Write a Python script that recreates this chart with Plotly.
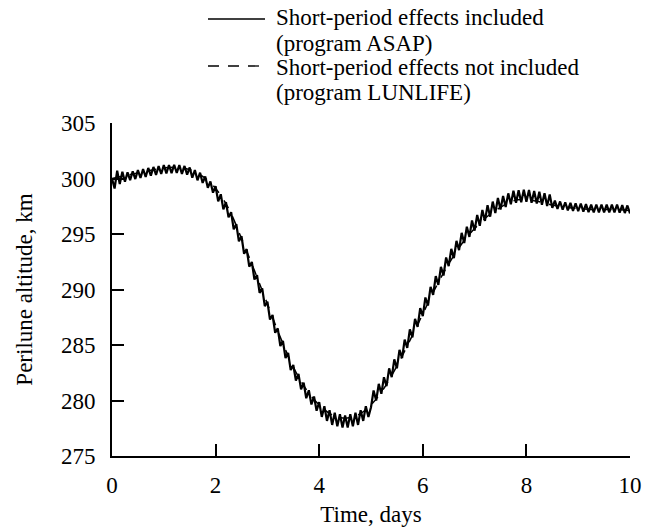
import plotly.graph_objects as go

# ---------------- data ----------------
# Program LUNLIFE (short-period effects not included), sampled every 0.25 day
lunlife_t = [0.0, 0.25, 0.5, 0.75, 1.0, 1.25, 1.5, 1.75, 2.0, 2.25,
             2.5, 2.75, 3.0, 3.25, 3.5, 3.75, 4.0, 4.25, 4.5, 4.75,
             5.0, 5.25, 5.5, 5.75, 6.0, 6.25, 6.5, 6.75, 7.0, 7.25,
             7.5, 7.75, 8.0, 8.25, 8.5, 8.75, 9.0, 9.25, 9.5, 9.75, 10.0]
lunlife_alt = [300.0, 300.25, 300.5, 300.75, 300.95, 301.0, 300.8, 300.2, 299.1, 297.3,
               294.6, 291.7, 288.7, 285.7, 283.0, 281.0, 279.6, 278.7, 278.4, 278.7,
               279.6, 281.1, 283.1, 285.4, 287.8, 290.2, 292.3, 294.1, 295.5, 296.6,
               297.4, 298.0, 298.1, 297.9, 297.6, 297.4, 297.3, 297.2, 297.2, 297.2, 297.1]

# Program ASAP (short-period effects included), sampled every 0.05 day from t = 0
asap_start = 0.0
asap_step = 0.05
asap_alt = [
    300.0, 299.1, 300.7, 299.5, 300.6, 299.7, 300.55, 299.85, 300.65, 299.95,
    300.75, 300.05, 300.85, 300.15, 300.95, 300.25, 301.04, 300.33, 301.12, 300.41,
    301.2, 300.46, 301.22, 300.48, 301.24, 300.5, 301.21, 300.42, 301.13, 300.34,
    301.0, 300.08, 300.76, 299.84, 300.52, 299.6, 300.18, 299.16, 299.74, 298.72,
    299.3, 297.94, 298.58, 297.22, 297.86, 296.5, 296.96, 295.42, 295.88, 294.34,
    294.8, 293.22, 293.64, 292.06, 292.48, 290.9, 291.3, 289.7, 290.1, 288.5,
    288.9, 287.3, 287.7, 286.1, 286.5, 284.9, 285.36, 283.82, 284.28, 282.74,
    283.2, 281.8, 282.4, 281.0, 281.6, 280.2, 280.92, 279.64, 280.36, 279.08,
    279.85, 278.52, 279.49, 278.16, 279.13, 277.8, 278.89, 277.68, 278.77, 277.56,
    278.65, 277.56, 278.77, 277.68, 278.89, 277.8, 279.13, 278.16, 279.49, 278.52,
    279.4, 280.9, 280.0, 281.5, 280.6, 282.1, 281.3, 282.9, 282.1, 283.7,
    282.9, 284.56, 283.82, 285.48, 284.74, 286.4, 285.68, 287.36, 286.64, 288.32,
    287.6, 289.28, 288.56, 290.24, 289.52, 291.2, 290.42, 292.04, 291.26, 292.88,
    292.1, 293.66, 292.82, 294.38, 293.54, 295.1, 294.18, 295.66, 294.74, 296.22,
    295.3, 296.72, 295.74, 297.16, 296.18, 297.6, 296.56, 297.92, 296.88, 298.24,
    297.2, 298.42, 297.44, 298.66, 297.68, 298.9, 297.82, 298.94, 297.86, 298.98,
    297.9, 298.96, 297.82, 298.88, 297.74, 298.8, 297.64, 298.68, 297.52, 298.56,
    297.35, 298.01, 297.27, 297.93, 297.19, 297.85, 297.13, 297.81, 297.09, 297.77,
    297.05, 297.73, 297.01, 297.69, 296.97, 297.65, 296.95, 297.65, 296.95, 297.65,
    296.95, 297.65, 296.95, 297.65, 296.95, 297.65, 296.93, 297.61, 296.89, 297.57,
    296.85,
]
asap_t = [asap_start + i * asap_step for i in range(len(asap_alt))]

x_ticks = [0, 2, 4, 6, 8, 10]
y_ticks = [275, 280, 285, 290, 295, 300, 305]

legend_solid = ["Short-period effects included", "(program ASAP)"]
legend_dashed = ["Short-period effects not included", "(program LUNLIFE)"]

# ---------------- figure ----------------
FONT = "Liberation Serif, Times New Roman, serif"
FS = 23
W, H = 659, 527
L, R, T, B = 112, 29, 123, 71
PW, PH = W - L - R, H - T - B


def px_x(p):
    return (p - L) / PW


def px_y(p):
    return (H - B - p) / PH


fig = go.Figure()
fig.add_trace(go.Scatter(x=lunlife_t, y=lunlife_alt, mode="lines",
                         line=dict(color="black", width=1.5, dash="dash", shape="spline"),
                         showlegend=False))
fig.add_trace(go.Scatter(x=asap_t, y=asap_alt, mode="lines",
                         line=dict(color="black", width=2.2),
                         showlegend=False))

axis_common = dict(showline=True, linecolor="black", linewidth=2, ticks="inside",
                   ticklen=12, tickwidth=1.5, tickcolor="black", showgrid=False,
                   zeroline=False, mirror=False, automargin=False,
                   tickfont=dict(family=FONT, size=FS, color="black"))

fig.update_xaxes(range=[0, 10], tickvals=x_ticks, ticktext=[str(v) for v in x_ticks],
                 ticklabelstandoff=7,
                 title=dict(text="Time, days", font=dict(family=FONT, size=FS, color="black"),
                            standoff=10),
                 **axis_common)
fig.update_yaxes(range=[275, 305], tickvals=y_ticks, ticktext=[str(v) for v in y_ticks],
                 ticklabelstandoff=10,
                 title=dict(text="Perilune altitude, km",
                            font=dict(family=FONT, size=FS, color="black"), standoff=22),
                 **axis_common)

shapes = [
    dict(type="line", xref="paper", yref="paper", x0=px_x(208), x1=px_x(265),
         y0=px_y(19), y1=px_y(19), line=dict(color="black", width=1.3)),
    dict(type="line", xref="paper", yref="paper", x0=px_x(208), x1=px_x(265),
         y0=px_y(66), y1=px_y(66), line=dict(color="black", width=1.3, dash="11px,9px")),
]
annotations = []
for i, txt in enumerate(legend_solid):
    annotations.append(dict(text=txt, xref="paper", yref="paper", x=px_x(274),
                            y=px_y(18 + 25 * i), xanchor="left", yanchor="middle",
                            showarrow=False,
                            font=dict(family=FONT, size=FS, color="black")))
for i, txt in enumerate(legend_dashed):
    annotations.append(dict(text=txt, xref="paper", yref="paper", x=px_x(274),
                            y=px_y(67 + 25 * i), xanchor="left", yanchor="middle",
                            showarrow=False,
                            font=dict(family=FONT, size=FS, color="black")))

fig.update_layout(width=W, height=H, margin=dict(l=L, r=R, t=T, b=B, autoexpand=False),
                  paper_bgcolor="white", plot_bgcolor="white",
                  shapes=shapes, annotations=annotations, showlegend=False)

fig.write_html("out.html")
